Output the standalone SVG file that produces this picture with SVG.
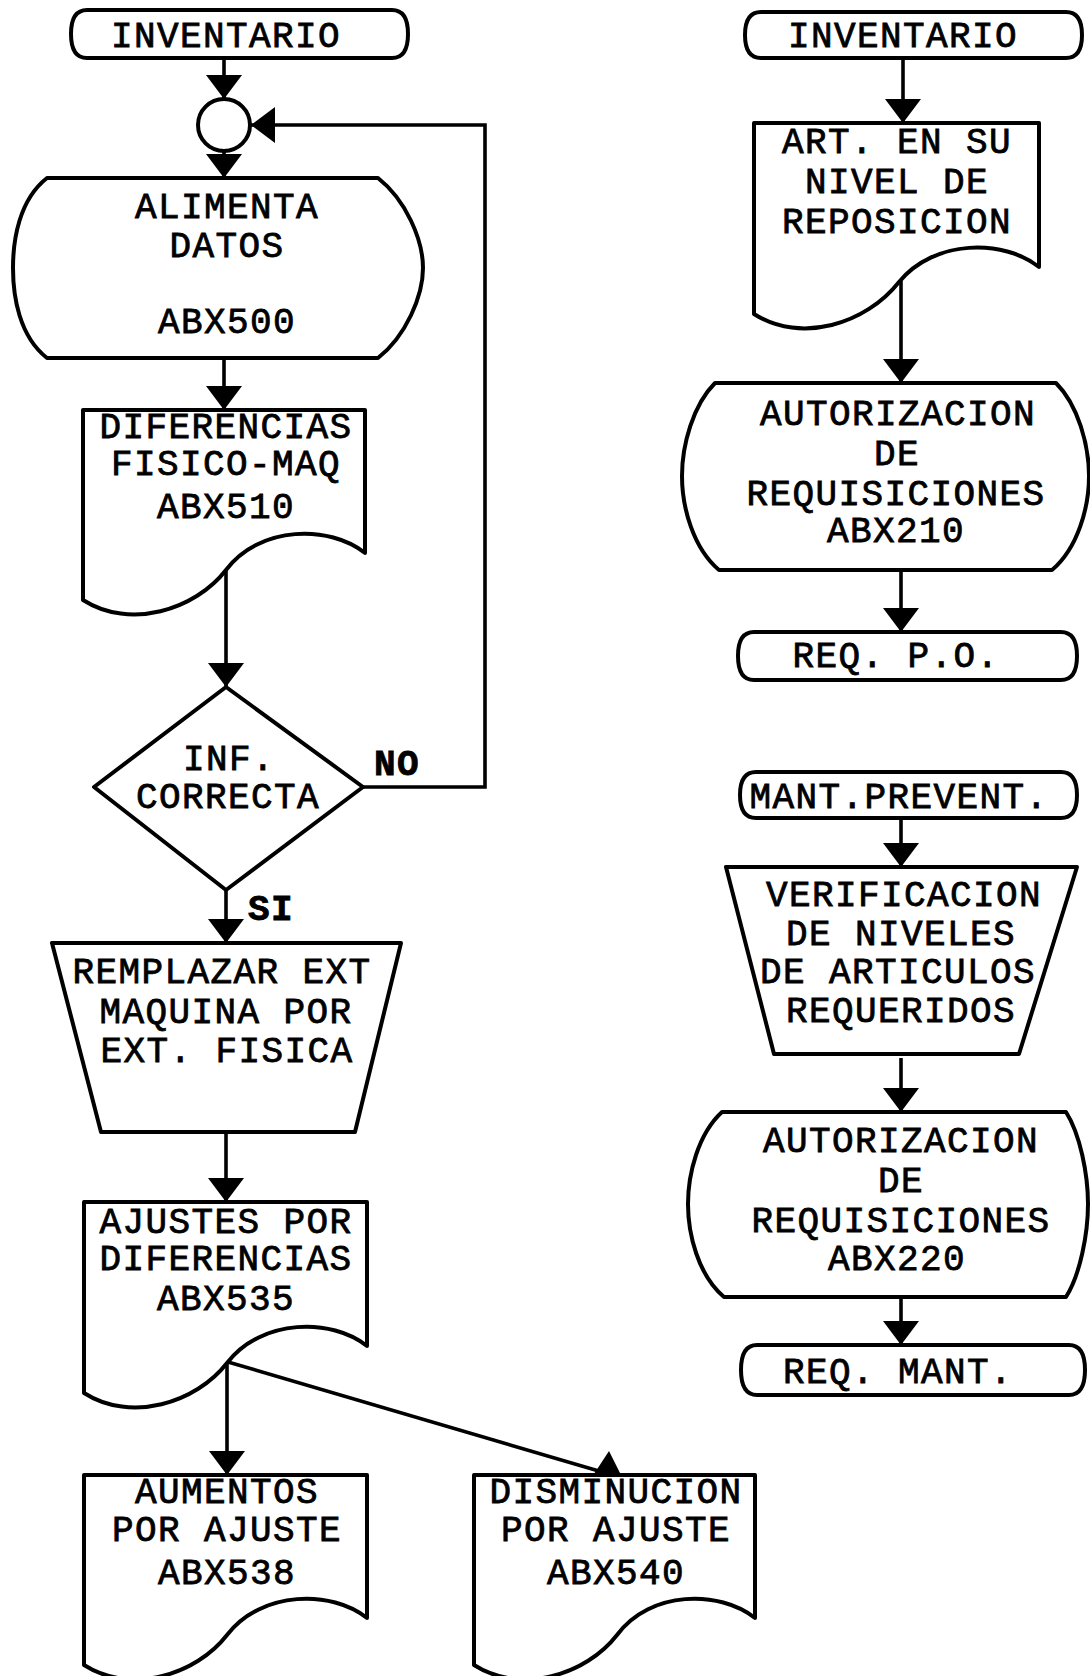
<svg xmlns="http://www.w3.org/2000/svg" width="1090" height="1676" viewBox="0 0 1090 1676">
<style>
.s{fill:#fff;stroke:#000;stroke-width:4;stroke-linejoin:round}
.c{fill:none;stroke:#000;stroke-width:3.6}
.t{font-family:"Liberation Mono","DejaVu Sans Mono",monospace;font-size:36px;letter-spacing:1.4px;text-anchor:middle;fill:#000;stroke:#000;stroke-width:0.8}
.b{font-weight:bold}
</style>
<defs>
<marker id="ah" viewBox="0 0 24 36" refX="24" refY="18" markerWidth="24" markerHeight="36" markerUnits="userSpaceOnUse" orient="auto">
<path d="M0,0 L24,18 L0,36 Z" fill="#000"/>
</marker>
</defs>
<rect width="1090" height="1676" fill="#fff"/>

<g id="connectors">
<line class="c" x1="224" y1="58" x2="224" y2="99" marker-end="url(#ah)"/>
<line class="c" x1="224" y1="151" x2="224" y2="178" marker-end="url(#ah)"/>
<line class="c" x1="224" y1="358" x2="224" y2="410" marker-end="url(#ah)"/>
<polyline class="c" points="363,787 485,787 485,125 251,125" marker-end="url(#ah)"/>
<line class="c" x1="226" y1="570" x2="226" y2="687" marker-end="url(#ah)"/>
<line class="c" x1="226" y1="890" x2="226" y2="943" marker-end="url(#ah)"/>
<line class="c" x1="226" y1="1124" x2="226" y2="1202" marker-end="url(#ah)"/>
<line class="c" x1="227" y1="1362" x2="227" y2="1475" marker-end="url(#ah)"/>
<line class="c" x1="228" y1="1362" x2="609" y2="1474"/>
<polygon points="609,1451 592,1477 622,1477" fill="#000"/>
<line class="c" x1="903" y1="58" x2="903" y2="123" marker-end="url(#ah)"/>
<line class="c" x1="901" y1="281" x2="901" y2="383" marker-end="url(#ah)"/>
<line class="c" x1="901" y1="570" x2="901" y2="632" marker-end="url(#ah)"/>
<line class="c" x1="901" y1="818" x2="901" y2="867" marker-end="url(#ah)"/>
<line class="c" x1="901" y1="1058" x2="901" y2="1112" marker-end="url(#ah)"/>
<line class="c" x1="901" y1="1297" x2="901" y2="1345" marker-end="url(#ah)"/>
</g>

<g id="inventario1">
<path class="s" d="M87,10 H392 Q408,10 408,34 Q408,58 392,58 H87 Q71,58 71,34 Q71,10 87,10 Z"/>
<text class="t" x="226" y="47">INVENTARIO</text>
</g>
<g id="conector">
<circle class="s" cx="224" cy="125" r="26"/>
</g>
<g id="alimenta">
<path class="s" d="M47,178 H378 C406,200 423,240 423,268 C423,296 406,336 378,358 H47 C19,336 13,296 13,268 C13,240 19,200 47,178 Z"/>
<text class="t" x="227" y="218">ALIMENTA</text>
<text class="t" x="227" y="257">DATOS</text>
<text class="t" x="227" y="333">ABX500</text>
</g>
<g id="diferencias">
<path class="s" d="M83,410 H365 V553 C330,525 260,525 226,570 C195,610 130,630 83,600 Z"/>
<text class="t" x="226" y="438">DIFERENCIAS</text>
<text class="t" x="226" y="475">FISICO-MAQ</text>
<text class="t" x="226" y="518">ABX510</text>
</g>
<g id="decision">
<polygon class="s" points="226,687 363,787 226,890 94,787"/>
<text class="t" x="229" y="770">INF.</text>
<text class="t" x="228" y="808">CORRECTA</text>
<text class="t b" x="397" y="775">NO</text>
<text class="t b" x="271" y="920">SI</text>
</g>
<g id="remplazar">
<polygon class="s" points="52,943 401,943 355,1132 101,1132"/>
<text class="t" x="222" y="983">REMPLAZAR EXT</text>
<text class="t" x="226" y="1023">MAQUINA POR</text>
<text class="t" x="227" y="1062">EXT. FISICA</text>
</g>
<g id="ajustes">
<path class="s" d="M84,1202 H367 V1346 C332,1318 262,1318 227,1363 C196,1403 131,1423 84,1393 Z"/>
<text class="t" x="226" y="1233">AJUSTES POR</text>
<text class="t" x="226" y="1270">DIFERENCIAS</text>
<text class="t" x="226" y="1310">ABX535</text>
</g>
<g id="aumentos">
<path class="s" d="M84,1475 H367 V1618 C332,1590 262,1590 227,1635 C196,1675 131,1695 84,1665 Z"/>
<text class="t" x="227" y="1503">AUMENTOS</text>
<text class="t" x="227" y="1541">POR AJUSTE</text>
<text class="t" x="227" y="1584">ABX538</text>
</g>
<g id="disminucion">
<path class="s" d="M474,1475 H755 V1618 C720,1590 650,1590 617,1635 C586,1675 521,1695 474,1665 Z"/>
<text class="t" x="616" y="1503">DISMINUCION</text>
<text class="t" x="616" y="1541">POR AJUSTE</text>
<text class="t" x="616" y="1584">ABX540</text>
</g>

<g id="inventario2">
<path class="s" d="M761,12 H1066 Q1082,12 1082,35 Q1082,58 1066,58 H761 Q745,58 745,35 Q745,12 761,12 Z"/>
<text class="t" x="903" y="47">INVENTARIO</text>
</g>
<g id="art-nivel">
<path class="s" d="M754,123 H1039 V267 C1004,239 934,239 899,282 C866,324 801,344 754,314 Z"/>
<text class="t" x="897" y="153">ART. EN SU</text>
<text class="t" x="897" y="193">NIVEL DE</text>
<text class="t" x="897" y="233">REPOSICION</text>
</g>
<g id="autorizacion210">
<path class="s" d="M715,383 H1056 C1078,405 1089,445 1089,476 C1089,507 1078,548 1052,570 H719 C693,548 682,507 682,476 C682,445 693,405 715,383 Z"/>
<text class="t" x="898" y="425">AUTORIZACION</text>
<text class="t" x="897" y="465">DE</text>
<text class="t" x="896" y="505">REQUISICIONES</text>
<text class="t" x="896" y="542">ABX210</text>
</g>
<g id="req-po">
<path class="s" d="M754,632 H1061 Q1077,632 1077,656 Q1077,680 1061,680 H754 Q738,680 738,656 Q738,632 754,632 Z"/>
<text class="t" x="896" y="667">REQ. P.O.</text>
</g>
<g id="mant-prevent">
<path class="s" d="M756,772 H1061 Q1077,772 1077,795 Q1077,818 1061,818 H756 Q740,818 740,795 Q740,772 756,772 Z"/>
<text class="t" x="899" y="808">MANT.PREVENT.</text>
</g>
<g id="verificacion">
<polygon class="s" points="726,867 1077,867 1019,1054 774,1054"/>
<text class="t" x="904" y="906">VERIFICACION</text>
<text class="t" x="901" y="945">DE NIVELES</text>
<text class="t" x="898" y="983">DE ARTICULOS</text>
<text class="t" x="901" y="1022">REQUERIDOS</text>
</g>
<g id="autorizacion220">
<path class="s" d="M722,1112 H1066 C1080,1134 1088,1174 1088,1204 C1088,1234 1080,1275 1066,1297 H724 C698,1275 688,1234 688,1204 C688,1174 698,1134 722,1112 Z"/>
<text class="t" x="901" y="1152">AUTORIZACION</text>
<text class="t" x="901" y="1192">DE</text>
<text class="t" x="901" y="1232">REQUISICIONES</text>
<text class="t" x="897" y="1270">ABX220</text>
</g>
<g id="req-mant">
<path class="s" d="M757,1345 H1069 Q1085,1345 1085,1370 Q1085,1395 1069,1395 H757 Q741,1395 741,1370 Q741,1345 757,1345 Z"/>
<text class="t" x="898" y="1383">REQ. MANT.</text>
</g>
</svg>
